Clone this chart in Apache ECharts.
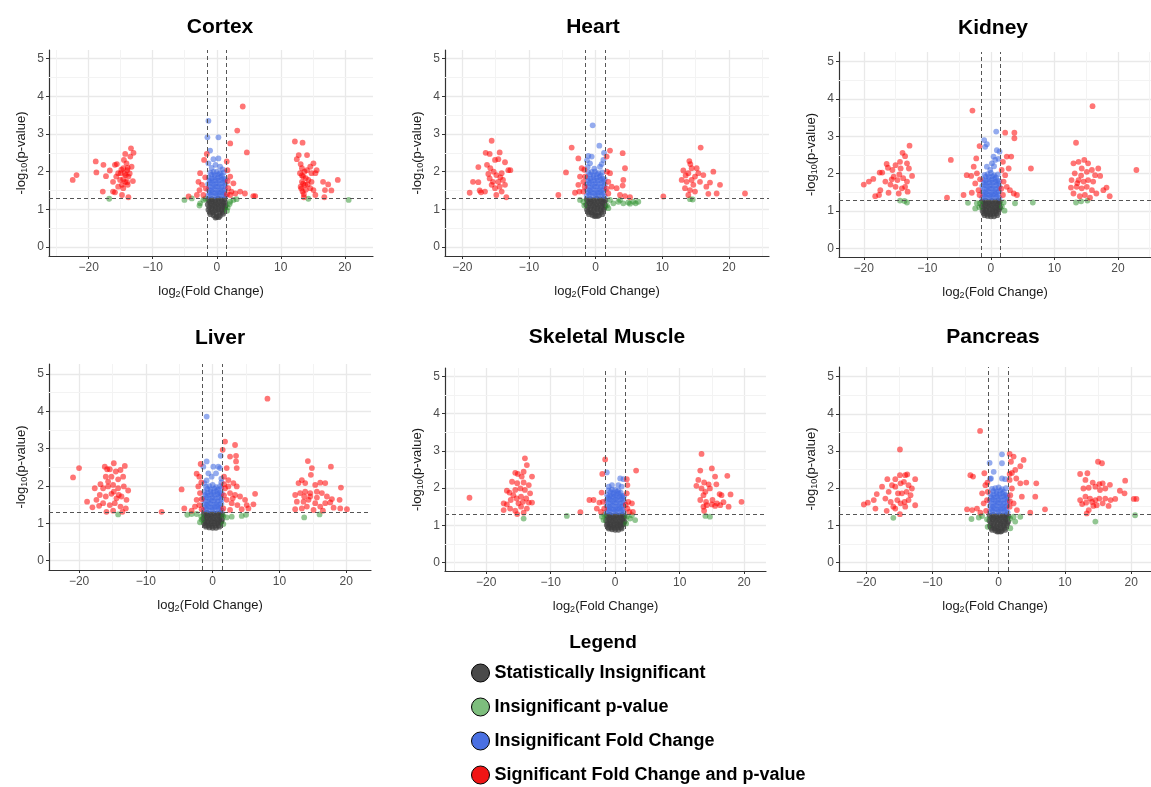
<!DOCTYPE html>
<html>
<head>
<meta charset="utf-8">
<title>Volcano plots by tissue</title>
<script src="https://cdn.jsdelivr.net/npm/echarts@6/dist/echarts.min.js"></script>
<style>
  html, body { margin: 0; padding: 0; background: #fff; }
  #chart { width: 1151px; height: 787px; }
</style>
</head>
<body>
<div id="chart"></div>
<script>
// points are [log2(fold change), -log10(p-value)]

var panelNames = ['Cortex', 'Heart', 'Kidney', 'Liver', 'Skeletal Muscle', 'Pancreas'];
var catNames = ['Statistically Insignificant', 'Insignificant p-value', 'Insignificant Fold Change', 'Significant Fold Change and p-value'];
var fcCut = 1.5;     // vertical dashed lines at +/- this
var pCut = 1.301;    // horizontal dashed line (p = 0.05)

// ---------- Cortex ----------
var cortexGray = [[-1.3,1.26],[-0.8,1.27],[-0.3,1.25],[0.2,1.28],[0.7,1.26],[1.2,1.27],
  [-1.15,1.2],[-0.65,1.21],[-0.15,1.19],[0.35,1.2],[0.85,1.21],[1.3,1.19],
  [-1.4,1.13],[-0.9,1.15],[-0.4,1.11],[0.1,1.14],[0.6,1.12],[1.1,1.15],[1.4,1.1],
  [-1.15,1.06],[-0.65,1.07],[-0.15,1.05],[0.35,1.06],[0.85,1.07],[1.3,1.05],
  [-1.3,0.99],[-0.8,1.01],[-0.3,0.97],[0.2,1.0],[0.7,0.98],[1.2,1.01],
  [-1.1,0.93],[-0.6,0.92],[-0.1,0.91],[0.4,0.92],[0.9,0.93],
  [-1.0,0.87],[-0.5,0.84],[0,0.8],[0.5,0.83],[1.0,0.88],[-0.2,0.78],[0.3,0.79]];
var cortexGreen = [[-16.8,1.28],[14.3,1.28],[20.6,1.25],[-5.05,1.25],[-3.9,1.29],[-2.6,1.16],[-2.1,1.25],
  [-2.7,1.1],[-1.8,1.28],[2.1,1.2],[2.6,1.25],[3.1,1.27],[1.6,0.96],[2.0,1.14],[1.7,1.05]];
var cortexBlue = [[-1.3,3.35],[-1.46,2.91],[0.26,2.91],[-1.04,2.56],[0.26,2.35],[-0.52,2.33],[-1.3,2.22],
  [0.52,2.13],[-0.2,2.18],[0.9,2.06],[-0.8,2.1],
  [-1.35,1.36],[-0.9,1.38],[-0.45,1.35],[0,1.37],[0.45,1.36],[0.9,1.38],[1.35,1.35],
  [-1.1,1.44],[-0.65,1.45],[-0.2,1.43],[0.25,1.44],[0.7,1.45],[1.15,1.43],
  [-1.3,1.52],[-0.85,1.5],[-0.4,1.53],[0.05,1.5],[0.5,1.52],[0.95,1.5],[1.3,1.53],
  [-1.1,1.6],[-0.65,1.59],[-0.2,1.61],[0.25,1.6],[0.7,1.59],[1.15,1.61],
  [-1.35,1.67],[-0.9,1.7],[-0.45,1.66],[0,1.69],[0.45,1.67],[0.9,1.7],[1.35,1.66],
  [-1.1,1.76],[-0.65,1.75],[-0.2,1.77],[0.25,1.76],[0.7,1.78],[1.15,1.75],
  [-1.25,1.84],[-0.8,1.82],[-0.35,1.85],[0.1,1.83],[0.55,1.86],[1.0,1.82],[1.35,1.8],
  [-0.8,1.92],[-0.3,1.91],[0.25,1.93],[0.8,1.9],
  [-1.0,1.97],[-0.5,1.99],[0,2.0],[0.5,1.96],[1.1,1.98]];
var cortexRed = [[-22.5,1.78],[-21.9,1.91],[-18.9,2.27],[-18.8,1.98],[-17.7,2.18],[-17.8,1.47],[-17.3,1.88],
  [-16.7,2.03],[-16.2,1.47],[-15.9,2.18],[-15.6,2.2],[-15.4,1.96],[-15.1,1.78],[-14.8,1.65],[-14.6,2.09],
  [-14.5,2.31],[-14.3,2.47],[-14.1,2.22],[-13.8,1.87],[-13.5,2.4],[-13.4,2.62],[-13.0,2.5],[-13.1,1.75],
  [-13.8,1.32],[-14.8,1.38],[-16.2,1.73],[-15.4,1.6],[-14.3,1.73],[-14.0,2.04],[-13.3,2.13],[-15.0,1.96],
  [-15.7,1.87],[-14.6,1.56],[-13.9,1.65],[-14.2,1.91],[-15.9,1.45],
  [-14.6,1.8],[-14.0,1.72],[-13.6,1.95],[-14.4,1.95],[-13.9,2.1],[-14.9,2.05],
  [12.2,2.8],[13.4,2.77],[12.5,2.33],[12.8,2.44],[14.1,2.44],[13.3,2.09],[13.0,1.96],[13.5,1.87],[13.3,1.73],
  [13.8,1.65],[13.4,1.47],[13.6,1.32],[14.6,2.13],[15.1,2.22],[15.4,1.96],[14.8,1.73],[15.1,1.51],[15.4,1.38],
  [15.6,2.04],[14.1,2.04],[14.3,1.78],[14.6,1.56],[16.6,1.73],[16.9,1.51],[17.4,1.66],[17.9,1.5],[18.9,1.78],
  [16.8,1.32],[13.9,1.83],[13.1,1.6],[14.8,1.96],
  [13.2,1.55],[13.5,1.68],[13.3,1.9],[13.7,2.0],[13.1,2.2],[13.6,1.4],[13.9,1.52],[14.2,1.66],
  [-1.56,2.47],[-1.98,2.31],[-2.6,1.96],[-2.86,1.73],[-2.7,1.51],[-2.3,1.65],[-2.1,1.38],[-3.1,1.38],
  [-4.4,1.34],[-1.8,1.85],[-1.7,1.55],
  [1.56,2.27],[2.1,2.75],[3.2,3.09],[4.06,3.73],[4.7,2.51],[1.67,2.04],[2.1,1.87],[2.6,1.69],[2.3,1.47],
  [2.1,1.38],[3.65,1.47],[4.4,1.42],[5.7,1.35],[6.0,1.35],[1.8,1.56],[2.9,1.42],[1.7,1.75],[1.6,1.4]];

// ---------- Heart ----------
var heartGray = [[-1.35,1.26],[-0.85,1.27],[-0.35,1.25],[0.15,1.28],[0.65,1.26],[1.15,1.27],[1.45,1.24],
  [-1.15,1.2],[-0.65,1.21],[-0.15,1.19],[0.35,1.2],[0.85,1.21],[1.3,1.19],
  [-1.4,1.12],[-0.9,1.15],[-0.4,1.11],[0.1,1.14],[0.6,1.12],[1.1,1.15],[1.45,1.1],
  [-1.15,1.06],[-0.65,1.07],[-0.15,1.05],[0.35,1.06],[0.85,1.07],[1.3,1.05],
  [-1.3,0.99],[-0.8,1.0],[-0.3,0.97],[0.2,1.01],[0.7,0.98],[1.2,1.0],
  [-1.1,0.93],[-0.6,0.92],[-0.1,0.91],[0.4,0.92],[0.9,0.93],
  [-1.0,0.87],[-0.5,0.85],[0,0.83],[0.5,0.84],[1.0,0.87],[-0.2,0.82],[0.3,0.82]];
var heartGreen = [[14.15,1.27],[14.55,1.26],[-2.35,1.25],[-1.85,1.2],[2.15,1.25],[2.65,1.16],[3.4,1.2],
  [4.15,1.16],[4.9,1.18],[5.65,1.2],[6.4,1.2],[1.9,1.03],[3.65,1.25],[5.15,1.15],[6.0,1.16],[-1.7,1.1],[1.7,1.1]];
var heartBlue = [[-0.45,3.23],[0.55,2.69],[-1.1,2.42],[-0.6,2.4],[1.15,2.31],[1.25,2.5],[-0.85,2.22],
  [0.65,2.13],[-1.3,2.3],[0.9,2.2],[-0.2,2.08],[-1.2,2.12],
  [-1.35,1.36],[-0.9,1.38],[-0.45,1.35],[0,1.37],[0.45,1.36],[0.9,1.38],[1.35,1.35],
  [-1.1,1.44],[-0.65,1.45],[-0.2,1.43],[0.25,1.44],[0.7,1.45],[1.15,1.43],
  [-1.3,1.52],[-0.85,1.5],[-0.4,1.53],[0.05,1.5],[0.5,1.52],[0.95,1.5],[1.3,1.53],
  [-1.1,1.6],[-0.65,1.59],[-0.2,1.61],[0.25,1.6],[0.7,1.59],[1.15,1.61],
  [-1.35,1.67],[-0.9,1.7],[-0.45,1.66],[0,1.69],[0.45,1.67],[0.9,1.7],[1.35,1.66],
  [-1.1,1.76],[-0.65,1.75],[-0.2,1.77],[0.25,1.76],[0.7,1.78],[1.15,1.75],
  [-1.25,1.84],[-0.8,1.82],[-0.35,1.85],[0.1,1.83],[0.55,1.86],[1.0,1.82],[1.35,1.8],
  [-0.85,1.92],[-0.35,1.91],[0.2,1.93],[0.75,1.9],
  [-1.1,1.98],[-0.6,1.99],[-0.1,2.0],[0.4,1.96],[1.0,1.98]];
var heartRed = [[-15.6,2.82],[-16.5,2.5],[-15.9,2.47],[-14.4,2.51],[-13.6,2.25],[-15.1,2.31],[-14.6,2.33],
  [-17.6,2.12],[-16.3,2.18],[-15.8,2.09],[-15.3,2.0],[-14.9,1.91],[-14.1,1.96],[-13.1,2.04],[-12.8,2.04],
  [-15.9,1.82],[-15.4,1.73],[-14.6,1.73],[-13.9,1.78],[-18.4,1.73],[-17.6,1.72],[-17.4,1.5],[-16.6,1.47],
  [-18.9,1.44],[-15.1,1.56],[-14.4,1.6],[-13.6,1.65],[-14.9,1.38],[-13.4,1.32],[-15.6,1.65],[-14.1,1.47],
  [-16.1,1.94],[-17.2,1.45],[-14.3,1.85],
  [15.75,2.64],[14.05,2.28],[14.4,2.09],[13.15,2.03],[13.9,1.96],[15.15,2.09],[15.4,1.96],[16.15,1.91],
  [17.65,2.0],[12.9,1.78],[13.65,1.73],[14.4,1.78],[14.65,1.65],[13.4,1.56],[14.15,1.51],[14.9,1.47],
  [16.6,1.6],[17.15,1.71],[18.65,1.65],[16.9,1.41],[18.15,1.42],[22.4,1.42],[10.15,1.34],[14.9,1.87],
  [13.9,1.38],[15.65,1.73],[14.2,2.2],[13.5,1.9],
  [-3.6,2.64],[-4.45,1.98],[-2.6,2.35],[-2.1,2.09],[-2.35,1.87],[-1.85,1.73],[-2.6,1.65],[-3.1,1.44],
  [-2.45,1.47],[-5.6,1.38],[-1.6,1.87],[-1.85,1.47],[-1.7,2.05],[-1.65,1.6],
  [2.15,2.56],[1.65,2.4],[4.05,2.49],[4.4,2.09],[4.15,1.78],[4.05,1.63],[2.15,1.96],[1.9,1.73],[2.4,1.6],
  [3.15,1.56],[3.65,1.38],[4.4,1.35],[5.15,1.32],[1.9,1.42],[1.7,2.0],[1.65,1.55]];

// ---------- Kidney ----------
var kidneyGray = [[-1.35,1.26],[-0.85,1.28],[-0.35,1.25],[0.15,1.27],[0.65,1.26],[1.15,1.28],[1.4,1.24],
  [-1.15,1.2],[-0.65,1.21],[-0.15,1.19],[0.35,1.2],[0.85,1.21],[1.3,1.19],
  [-1.4,1.13],[-0.9,1.15],[-0.4,1.12],[0.1,1.14],[0.6,1.11],[1.1,1.15],[1.45,1.1],
  [-1.15,1.06],[-0.65,1.07],[-0.15,1.05],[0.35,1.06],[0.85,1.07],[1.3,1.05],
  [-1.3,1.0],[-0.8,1.01],[-0.3,0.98],[0.2,1.0],[0.7,0.99],[1.2,1.01],
  [-1.1,0.94],[-0.6,0.93],[-0.1,0.92],[0.4,0.93],[0.9,0.94],
  [-1.0,0.89],[-0.5,0.87],[0,0.86],[0.5,0.86],[1.0,0.89]];
var kidneyGreen = [[-14.3,1.28],[-13.6,1.27],[-13.2,1.23],[13.4,1.23],[14.2,1.26],[15.2,1.28],[-3.6,1.22],
  [-2.46,1.07],[-2.2,1.21],[-1.7,1.21],[2.0,1.23],[2.15,1.01],[3.8,1.21],[6.6,1.23],[1.73,1.12],[-1.8,1.1]];
var kidneyBlue = [[0.84,3.13],[-1.05,2.9],[-0.63,2.79],[-0.9,2.72],[0.94,2.63],[1.36,2.59],[0.42,2.46],
  [0.16,2.28],[0.68,2.37],[-0.63,2.19],[-0.1,2.1],[1.2,2.4],[0.5,2.2],
  [-1.35,1.36],[-0.9,1.38],[-0.45,1.35],[0,1.37],[0.45,1.36],[0.9,1.38],[1.35,1.35],
  [-1.1,1.44],[-0.65,1.45],[-0.2,1.43],[0.25,1.44],[0.7,1.45],[1.15,1.43],
  [-1.3,1.52],[-0.85,1.5],[-0.4,1.53],[0.05,1.5],[0.5,1.52],[0.95,1.5],[1.3,1.53],
  [-1.1,1.6],[-0.65,1.59],[-0.2,1.61],[0.25,1.6],[0.7,1.59],[1.15,1.61],
  [-1.35,1.67],[-0.9,1.7],[-0.45,1.66],[0,1.69],[0.45,1.67],[0.9,1.7],[1.35,1.66],
  [-1.1,1.76],[-0.65,1.75],[-0.2,1.77],[0.25,1.76],[0.7,1.78],[1.15,1.75],
  [-1.25,1.84],[-0.8,1.82],[-0.35,1.85],[0.1,1.83],[0.55,1.86],[1.0,1.82],[1.35,1.8],
  [-0.8,1.92],[-0.3,1.91],[0.25,1.93],[0.8,1.9],
  [-1.0,1.97],[-0.5,1.99],[0,2.02],[0.5,1.96],[1.1,1.98]];
var kidneyRed = [[-12.8,2.75],[-13.9,2.56],[-13.5,2.47],[-13.2,2.28],[-14.3,2.32],[-15.0,2.23],[-16.4,2.26],
  [-16.2,2.16],[-17.5,2.03],[-17.1,2.03],[-15.5,2.1],[-14.2,2.14],[-12.9,2.14],[-12.4,1.94],[-15.3,1.92],
  [-14.7,1.83],[-13.8,1.88],[-13.2,1.79],[-16.6,1.79],[-15.8,1.71],[-15.0,1.65],[-14.0,1.61],[-13.1,1.52],
  [-17.4,1.56],[-17.6,1.43],[-18.2,1.4],[-16.1,1.49],[-20.0,1.71],[-19.2,1.79],[-18.5,1.86],[-14.5,1.47],
  [-13.5,1.65],[-15.6,1.85],[-14.4,1.98],
  [16.0,3.81],[13.4,2.83],[13.0,2.28],[13.8,2.32],[14.7,2.37],[15.3,2.28],[14.3,2.14],[13.2,2.01],[15.1,2.05],
  [15.9,2.1],[16.9,2.14],[16.4,1.96],[17.2,1.94],[12.7,1.83],[13.8,1.83],[14.6,1.79],[15.3,1.83],[16.1,1.79],
  [13.5,1.65],[14.3,1.61],[15.1,1.65],[15.9,1.56],[17.7,1.56],[18.2,1.63],[18.7,1.4],[13.0,1.47],[14.0,1.4],
  [14.8,1.43],[16.6,1.47],[22.9,2.1],[12.6,1.63],[15.6,1.36],[14.2,1.95],[13.6,1.75],
  [-2.9,3.69],[-1.78,2.74],[-2.3,2.41],[-6.3,2.37],[-3.8,1.96],[-3.1,1.94],[-2.7,2.19],[-2.2,2.01],
  [-2.46,1.74],[-3.0,1.49],[-1.94,1.56],[-4.3,1.43],[-6.9,1.36],[-1.78,1.43],[-1.7,1.85],
  [2.25,3.1],[3.7,3.1],[3.7,2.95],[2.5,2.46],[3.2,2.46],[1.9,2.32],[2.8,2.14],[2.25,1.96],[2.0,1.79],
  [2.5,1.65],[3.0,1.56],[4.1,1.43],[6.3,2.14],[1.9,1.43],[3.6,1.47],[1.7,2.1],[1.65,1.6]];

// ---------- Liver ----------
var liverGray = [[-1.35,1.26],[-0.85,1.28],[-0.35,1.25],[0.15,1.27],[0.65,1.26],[1.15,1.28],[1.4,1.24],
  [-1.15,1.2],[-0.65,1.21],[-0.15,1.19],[0.35,1.2],[0.85,1.21],[1.3,1.19],
  [-1.4,1.13],[-0.9,1.15],[-0.4,1.12],[0.1,1.14],[0.6,1.11],[1.1,1.15],[1.4,1.1],
  [-1.15,1.06],[-0.65,1.07],[-0.15,1.05],[0.35,1.06],[0.85,1.07],[1.3,1.05],
  [-1.3,1.01],[-0.8,1.02],[-0.3,0.99],[0.2,1.01],[0.7,1.0],[1.2,1.02],
  [-1.1,0.95],[-0.6,0.94],[-0.1,0.93],[0.4,0.94],[0.9,0.95],
  [-1.0,0.91],[-0.5,0.89],[0,0.88],[0.5,0.88],[1.0,0.91]];
var liverGreen = [[-14.15,1.24],[13.7,1.16],[16.0,1.24],[-3.8,1.23],[-3.15,1.25],[-1.9,1.03],[-2.4,1.25],
  [-1.7,1.18],[1.6,1.2],[2.1,1.16],[2.85,1.18],[4.35,1.2],[5.0,1.23],[1.6,0.98],[-1.65,1.1]];
var liverBlue = [[-0.9,3.86],[-0.9,2.66],[1.2,2.81],[-1.4,2.52],[0.1,2.52],[0.85,2.52],[-0.65,2.34],
  [0.5,2.34],[-0.15,2.25],[-1.25,2.08],[1.1,2.48],[1.3,2.2],[-0.9,2.15],
  [-1.35,1.36],[-0.9,1.38],[-0.45,1.35],[0,1.37],[0.45,1.36],[0.9,1.38],[1.35,1.35],
  [-1.1,1.44],[-0.65,1.45],[-0.2,1.43],[0.25,1.44],[0.7,1.45],[1.15,1.43],
  [-1.3,1.52],[-0.85,1.5],[-0.4,1.53],[0.05,1.5],[0.5,1.52],[0.95,1.5],[1.3,1.53],
  [-1.1,1.6],[-0.65,1.59],[-0.2,1.61],[0.25,1.6],[0.7,1.59],[1.15,1.61],
  [-1.35,1.67],[-0.9,1.7],[-0.45,1.66],[0,1.69],[0.45,1.67],[0.9,1.7],[1.35,1.66],
  [-1.1,1.76],[-0.65,1.75],[-0.2,1.77],[0.25,1.76],[0.7,1.78],[1.15,1.75],
  [-1.25,1.84],[-0.8,1.82],[-0.35,1.85],[0.1,1.83],[0.55,1.86],[1.0,1.82],[1.35,1.8],
  [-0.8,1.92],[-0.3,1.91],[0.25,1.93],[0.8,1.9],[1.3,1.95],
  [-1.0,1.98],[-0.5,2.0],[0,2.03],[0.5,1.97],[1.1,2.0],[1.3,2.1]];
var liverRed = [[-20.9,2.23],[-20.0,2.48],[-18.8,1.58],[-17.65,1.94],[-18.0,1.43],[-17.0,1.47],[-16.8,2.05],
  [-16.15,2.52],[-15.8,2.45],[-15.4,2.45],[-14.8,2.61],[-14.5,2.39],[-13.15,2.54],[-13.8,2.43],[-16.0,2.25],
  [-15.15,2.25],[-14.15,2.18],[-13.4,2.25],[-12.65,1.88],[-16.4,1.94],[-15.65,1.99],[-14.9,2.03],[-14.15,1.94],
  [-13.3,1.99],[-16.9,1.76],[-16.0,1.72],[-15.15,1.79],[-14.4,1.67],[-13.65,1.72],[-12.9,1.63],[-16.4,1.54],
  [-15.4,1.49],[-14.65,1.54],[-13.8,1.45],[-13.0,1.4],[-15.9,1.31],[-14.9,1.34],[-13.5,1.31],[-17.4,1.63],
  [-15.65,2.12],[-14.05,1.76],[-14.8,1.85],
  [14.25,2.67],[14.85,2.48],[17.7,2.52],[14.7,2.3],[13.35,2.16],[12.85,2.08],[13.85,2.08],[15.35,2.03],
  [16.1,2.09],[16.85,2.08],[19.2,1.96],[12.35,1.76],[13.1,1.81],[13.85,1.85],[14.6,1.81],[15.6,1.85],
  [16.35,1.81],[17.1,1.72],[17.85,1.65],[19.0,1.63],[12.6,1.58],[13.6,1.58],[14.35,1.63],[15.35,1.54],
  [16.1,1.45],[16.85,1.54],[17.6,1.56],[12.35,1.38],[13.35,1.4],[14.1,1.45],[15.1,1.36],[18.1,1.42],
  [19.1,1.4],[20.1,1.38],[14.6,1.72],[13.7,1.72],[15.6,1.69],[16.5,1.34],
  [8.2,4.34],
  [-1.8,2.59],[-2.4,2.33],[-2.0,2.25],[-4.65,1.91],[-2.15,1.99],[-1.9,1.81],[-2.4,1.63],[-2.0,1.49],
  [-4.25,1.4],[-3.15,1.34],[-7.65,1.31],[-2.65,1.45],[-1.65,1.38],[-1.7,2.1],[-1.65,1.65],
  [1.85,3.19],[3.35,3.1],[1.5,2.97],[2.6,2.79],[3.5,2.81],[3.5,2.66],[3.6,2.48],[2.1,2.48],[1.7,2.25],
  [2.35,2.16],[3.1,2.08],[3.6,1.99],[1.85,1.94],[2.6,1.81],[3.35,1.76],[4.1,1.72],[4.85,1.63],[6.35,1.79],
  [2.1,1.63],[2.85,1.54],[3.7,1.49],[5.1,1.49],[6.1,1.51],[1.6,1.4],[2.6,1.36],[4.35,1.38],[5.35,1.4],
  [2.35,1.99],[3.0,1.67],[1.7,1.75],[1.7,2.05]];

// ---------- Skeletal Muscle ----------
var muscleGray = [[-1.35,1.26],[-0.85,1.28],[-0.35,1.25],[0.15,1.27],[0.65,1.26],[1.15,1.28],[1.45,1.24],
  [-1.15,1.2],[-0.65,1.21],[-0.15,1.19],[0.35,1.2],[0.85,1.21],[1.3,1.19],
  [-1.4,1.13],[-0.9,1.15],[-0.4,1.12],[0.1,1.14],[0.6,1.11],[1.1,1.15],[1.45,1.1],
  [-1.15,1.06],[-0.65,1.07],[-0.15,1.05],[0.35,1.06],[0.85,1.07],[1.3,1.05],
  [-1.3,1.01],[-0.8,1.02],[-0.3,0.99],[0.2,1.01],[0.7,1.0],[1.2,1.02],
  [-1.1,0.95],[-0.6,0.94],[-0.1,0.93],[0.4,0.94],[0.9,0.95],
  [-1.0,0.91],[-0.5,0.89],[0,0.88],[0.5,0.88],[1.0,0.91]];
var muscleGreen = [[-14.2,1.18],[-7.5,1.25],[14.0,1.25],[14.7,1.23],[-2.05,1.23],[-1.8,1.14],[1.8,1.23],
  [2.3,1.18],[3.1,1.14],[2.6,1.27],[1.7,1.05],[-1.7,1.28]];
var muscleBlue = [[-1.3,2.42],[0.78,2.26],[1.3,2.24],[-0.5,2.08],[0.5,2.08],[1.0,2.04],[-1.0,2.04],
  [-1.35,1.36],[-0.9,1.38],[-0.45,1.35],[0,1.37],[0.45,1.36],[0.9,1.38],[1.35,1.35],
  [-1.1,1.44],[-0.65,1.45],[-0.2,1.43],[0.25,1.44],[0.7,1.45],[1.15,1.43],
  [-1.3,1.52],[-0.85,1.5],[-0.4,1.53],[0.05,1.5],[0.5,1.52],[0.95,1.5],[1.3,1.53],
  [-1.1,1.6],[-0.65,1.59],[-0.2,1.61],[0.25,1.6],[0.7,1.59],[1.15,1.61],
  [-1.35,1.67],[-0.9,1.7],[-0.45,1.66],[0,1.69],[0.45,1.67],[0.9,1.7],[1.35,1.66],
  [-1.1,1.75],[-0.65,1.74],[-0.2,1.76],[0.25,1.75],[0.7,1.77],[1.15,1.74],
  [-1.25,1.82],[-0.8,1.8],[-0.35,1.84],[0.1,1.81],[0.55,1.85],[1.0,1.8],[1.35,1.78],
  [-0.75,1.89],[-0.25,1.88],[0.3,1.9],[0.85,1.88],
  [-1.0,1.94],[-0.5,1.96],[0,1.95],[0.5,1.93]];
var muscleRed = [[-22.6,1.74],[-14.0,2.8],[-13.7,2.62],[-15.5,2.41],[-15.1,2.38],[-14.2,2.44],[-14.5,2.31],
  [-12.9,2.31],[-16.0,2.17],[-15.2,2.13],[-14.2,2.15],[-13.4,2.08],[-16.8,1.93],[-16.4,1.88],[-15.5,1.95],
  [-14.7,1.99],[-14.0,1.95],[-13.2,1.86],[-17.3,1.59],[-16.8,1.56],[-16.2,1.68],[-15.3,1.72],[-14.6,1.77],
  [-13.8,1.72],[-12.9,1.61],[-17.3,1.41],[-16.3,1.45],[-15.5,1.39],[-14.6,1.5],[-13.7,1.45],[-15.2,1.3],
  [-14.2,1.34],[-15.0,1.59],[-14.3,1.63],[-13.4,1.61],[-15.8,1.81],
  [13.4,2.92],[13.2,2.47],[15.0,2.53],[15.5,2.31],[17.4,2.33],[12.9,2.22],[13.8,2.15],[14.5,2.1],[15.7,2.1],
  [12.6,2.06],[13.4,1.99],[14.0,1.9],[14.7,1.99],[16.2,1.84],[16.5,1.81],[17.9,1.83],[13.7,1.81],[13.2,1.68],
  [14.1,1.63],[15.1,1.68],[13.7,1.5],[14.2,1.54],[15.0,1.56],[15.8,1.59],[16.8,1.62],[19.6,1.63],[13.8,1.39],
  [17.6,1.5],[16.3,1.54],[15.5,1.52],
  [-1.55,2.77],[-2.0,2.38],[-2.1,1.88],[-1.9,1.63],[-4.0,1.68],[-3.35,1.68],[-2.45,1.61],[-2.85,1.45],
  [-2.2,1.36],[-5.4,1.35],[-1.7,1.45],
  [3.25,2.47],[1.8,2.24],[1.9,2.08],[1.8,1.86],[2.05,1.63],[2.6,1.59],[1.9,1.45],[2.75,1.36],[2.2,1.36],[1.65,1.55]];

// ---------- Pancreas ----------
var pancreasGray = [[-1.35,1.26],[-0.85,1.28],[-0.35,1.25],[0.15,1.27],[0.65,1.26],[1.15,1.28],[1.45,1.24],
  [-1.15,1.2],[-0.65,1.21],[-0.15,1.19],[0.35,1.2],[0.85,1.21],[1.3,1.19],
  [-1.4,1.13],[-0.9,1.15],[-0.4,1.12],[0.1,1.14],[0.6,1.11],[1.1,1.15],[1.45,1.1],
  [-1.15,1.06],[-0.65,1.07],[-0.15,1.05],[0.35,1.06],[0.85,1.07],[1.3,1.05],
  [-1.3,0.99],[-0.8,1.0],[-0.3,0.97],[0.2,1.0],[0.7,0.98],[1.2,1.0],
  [-1.1,0.93],[-0.6,0.92],[-0.1,0.91],[0.4,0.92],[0.9,0.93],
  [-1.0,0.88],[-0.5,0.86],[0,0.84],[0.5,0.85],[1.0,0.88],[-0.2,0.83],[0.3,0.83]];
var pancreasGreen = [[-15.9,1.2],[14.6,1.1],[20.6,1.27],[-4.1,1.17],[-3.0,1.21],[-2.5,1.25],[-1.76,1.16],
  [-1.66,0.96],[1.76,1.18],[2.26,1.23],[3.27,1.23],[1.76,0.92],[2.5,1.1]];
var pancreasBlue = [[0.5,2.91],[-1.36,2.68],[0.5,2.67],[-0.75,2.44],[-1.16,2.26],[0.5,2.26],[1.0,2.24],[-1.3,2.25],
  [-1.35,1.36],[-0.9,1.38],[-0.45,1.35],[0,1.37],[0.45,1.36],[0.9,1.38],[1.35,1.35],
  [-1.1,1.44],[-0.65,1.45],[-0.2,1.43],[0.25,1.44],[0.7,1.45],[1.15,1.43],
  [-1.3,1.52],[-0.85,1.5],[-0.4,1.53],[0.05,1.5],[0.5,1.52],[0.95,1.5],[1.3,1.53],
  [-1.1,1.6],[-0.65,1.59],[-0.2,1.61],[0.25,1.6],[0.7,1.59],[1.15,1.61],
  [-1.35,1.67],[-0.9,1.7],[-0.45,1.66],[0,1.69],[0.45,1.67],[0.9,1.7],[1.35,1.66],
  [-1.1,1.76],[-0.65,1.75],[-0.2,1.77],[0.25,1.76],[0.7,1.78],[1.15,1.75],
  [-1.25,1.84],[-0.8,1.82],[-0.35,1.85],[0.1,1.83],[0.55,1.86],[1.0,1.82],[1.35,1.8],
  [-0.8,1.92],[-0.3,1.91],[0.25,1.93],[0.8,1.9],
  [-1.0,1.98],[-0.5,2.0],[0,2.02],[0.5,1.97],[1.1,2.0]];
var pancreasRed = [[-14.9,3.04],[-20.35,1.56],[-19.75,1.61],[-18.85,1.68],[-18.4,1.84],[-18.6,1.45],[-17.6,2.04],
  [-16.8,2.24],[-15.6,2.24],[-14.9,2.35],[-14.1,2.35],[-13.8,2.37],[-12.6,2.24],[-17.1,1.72],[-16.6,1.9],
  [-16.1,2.08],[-15.6,2.04],[-14.8,2.13],[-14.3,2.17],[-13.6,2.08],[-13.1,1.99],[-16.3,1.63],[-15.9,1.5],
  [-15.3,1.68],[-14.6,1.86],[-13.9,1.9],[-13.3,1.81],[-15.2,1.86],[-14.8,1.59],[-14.2,1.63],[-13.6,1.68],
  [-12.6,1.54],[-16.9,1.39],[-15.6,1.45],[-14.9,1.3],[-14.1,1.5],
  [15.0,2.71],[15.6,2.67],[12.3,2.38],[13.4,2.4],[13.1,2.22],[14.2,2.15],[15.2,2.11],[15.7,2.13],[16.8,2.09],
  [19.1,2.2],[12.8,1.99],[13.6,2.01],[14.6,2.04],[15.3,1.95],[16.1,1.99],[18.3,1.93],[19.0,1.86],[12.3,1.68],
  [13.1,1.77],[13.8,1.72],[14.6,1.68],[15.2,1.72],[16.1,1.72],[16.9,1.68],[17.6,1.71],[12.6,1.57],[13.2,1.61],
  [14.1,1.63],[14.8,1.54],[15.7,1.59],[16.6,1.52],[20.4,1.71],[20.8,1.71],[13.6,1.41],[13.3,1.32],[14.3,1.52],
  [-2.8,3.54],[-4.27,2.35],[-3.87,2.31],[-2.16,2.4],[-2.0,2.08],[-2.5,1.86],[-1.66,1.9],[-2.26,1.59],
  [-1.76,1.68],[-4.77,1.43],[-4.0,1.41],[-3.27,1.45],[-2.76,1.34],[-1.9,1.39],[-1.7,2.15],
  [1.66,2.92],[2.26,2.85],[1.86,2.71],[3.77,2.76],[3.27,2.59],[2.51,2.49],[2.0,2.41],[1.66,2.38],[2.66,2.26],
  [1.66,2.22],[3.27,2.13],[4.17,2.15],[5.68,2.13],[2.0,1.99],[3.5,1.77],[5.53,1.77],[1.76,1.81],[2.26,1.59],
  [1.66,1.5],[2.76,1.41],[4.77,1.34],[7.0,1.43],[1.7,1.65]];

var panelData = [
  [cortexGray, cortexGreen, cortexBlue, cortexRed],
  [heartGray, heartGreen, heartBlue, heartRed],
  [kidneyGray, kidneyGreen, kidneyBlue, kidneyRed],
  [liverGray, liverGreen, liverBlue, liverRed],
  [muscleGray, muscleGreen, muscleBlue, muscleRed],
  [pancreasGray, pancreasGreen, pancreasBlue, pancreasRed]
];

// ---------- layout / style ----------
var FONT = '"Liberation Sans", Arial, Helvetica, sans-serif';
var boxes = [
  {left: 49,  top: 50,  width: 324, height: 206, x: [-26.2, 24.4], y: [-0.24, 5.23], tx: 220, ty: 27},
  {left: 445, top: 50,  width: 324, height: 206, x: [-22.6, 26.0], y: [-0.24, 5.23], tx: 593, ty: 27},
  {left: 839, top: 52,  width: 312, height: 205, x: [-23.9, 25.2], y: [-0.23, 5.26], tx: 993, ty: 28},
  {left: 49,  top: 364, width: 322, height: 206, x: [-24.5, 23.7], y: [-0.25, 5.27], tx: 220, ty: 338},
  {left: 445, top: 368, width: 321, height: 203, x: [-26.4, 23.4], y: [-0.23, 5.23], tx: 607, ty: 337},
  {left: 839, top: 367, width: 312, height: 204, x: [-24.1, 23.0], y: [-0.23, 5.26], tx: 993, ty: 337}
];
var catColors = ['rgba(62,62,62,0.9)', 'rgba(34,139,34,0.62)', 'rgba(65,105,225,0.7)', 'rgba(255,0,0,0.68)'];
var legendColors = ['#4a4a4a', '#7dbe7d', '#4a70e2', '#f01515'];

var nameRich = {
  n: {fontSize: 13, color: '#1a1a1a', fontFamily: FONT, lineHeight: 16},
  s: {fontSize: 9, color: '#1a1a1a', fontFamily: FONT, verticalAlign: 'bottom', padding: [4, 0, 0, 0]}
};
function minus(v) { return String(v).replace('-', '\u2212'); }

var grids = [], xAxes = [], yAxes = [], series = [], graphics = [];

boxes.forEach(function (b, i) {
  grids.push({left: b.left, top: b.top, width: b.width, height: b.height});

  var common = {
    gridIndex: i,
    type: 'value',
    nameLocation: 'middle',
    nameTextStyle: {rich: nameRich},
    axisLine: {show: true, onZero: false, lineStyle: {color: '#333', width: 1.2}},
    axisTick: {show: true, length: 3, lineStyle: {color: '#333'}},
    axisLabel: {color: '#4d4d4d', fontSize: 12, fontFamily: FONT, showMinLabel: false, showMaxLabel: false, formatter: minus},
    splitLine: {show: true, showMinLine: false, showMaxLine: false, lineStyle: {color: '#e9e9e9', width: 1.3}}
  };
  xAxes.push(echarts.util.merge({
    min: b.x[0], max: b.x[1],
    name: '{n|log}{s|2}{n|(Fold Change)}', nameGap: 27,
    axisLabel: {margin: 6}
  }, common));
  yAxes.push(echarts.util.merge({
    min: b.y[0], max: b.y[1],
    name: '{n|-log}{s|10}{n|(p-value)}', nameGap: 20,
    axisLabel: {margin: 5}
  }, common));

  // minor grid lines halfway between the major ticks, kept under the points
  var minor = [];
  for (var v = -25; v <= 25; v += 10) if (v > b.x[0] && v < b.x[1]) minor.push({xAxis: v});
  for (var w = 0.5; w < b.y[1]; w += 1) minor.push({yAxis: w});
  series.push({
    type: 'scatter', xAxisIndex: i, yAxisIndex: i, data: [], silent: true, z: 1,
    markLine: {z: 1, silent: true, symbol: ['none', 'none'], label: {show: false}, animation: false,
      lineStyle: {color: '#f3f3f3', width: 1, type: 'solid'}, emphasis: {disabled: true}, data: minor}
  });

  catNames.forEach(function (name, c) {
    series.push({
      type: 'scatter', name: name, xAxisIndex: i, yAxisIndex: i,
      data: panelData[i][c], symbolSize: 5.8, z: 2,
      itemStyle: {color: catColors[c], borderWidth: 0},
      emphasis: {disabled: true}
    });
  });

  series.push({
    type: 'scatter', xAxisIndex: i, yAxisIndex: i, data: [], silent: true, z: 5,
    markLine: {z: 5, silent: true, symbol: ['none', 'none'], label: {show: false}, animation: false,
      lineStyle: {color: '#555', width: 1, type: [4, 3]}, emphasis: {disabled: true},
      data: [{xAxis: -fcCut}, {xAxis: fcCut}, {yAxis: pCut}]}
  });

  graphics.push({
    type: 'text', x: b.tx, y: b.ty,
    style: {text: panelNames[i], font: 'bold 21px ' + FONT, fill: '#000', textAlign: 'center', textVerticalAlign: 'middle'}
  });
});

graphics.push({
  type: 'text', x: 603, y: 643,
  style: {text: 'Legend', font: 'bold 19px ' + FONT, fill: '#000', textAlign: 'center', textVerticalAlign: 'middle'}
});

var option = {
  animation: false,
  backgroundColor: '#fff',
  grid: grids,
  xAxis: xAxes,
  yAxis: yAxes,
  series: series,
  graphic: graphics,
  legend: {
    data: catNames.map(function (n, c) {
      return {name: n, itemStyle: {color: legendColors[c], borderColor: '#000', borderWidth: 1, opacity: 1}};
    }),
    orient: 'vertical',
    left: 471, top: 663,
    padding: 0,
    icon: 'circle',
    itemWidth: 18, itemHeight: 18, itemGap: 14,
    selectedMode: false,
    textStyle: {fontSize: 18, fontWeight: 'bold', color: '#000', fontFamily: FONT, lineHeight: 20}
  }
};

var myChart = echarts.init(document.getElementById('chart'), null, {renderer: 'canvas'});
myChart.setOption(option);
</script>
</body>
</html>
